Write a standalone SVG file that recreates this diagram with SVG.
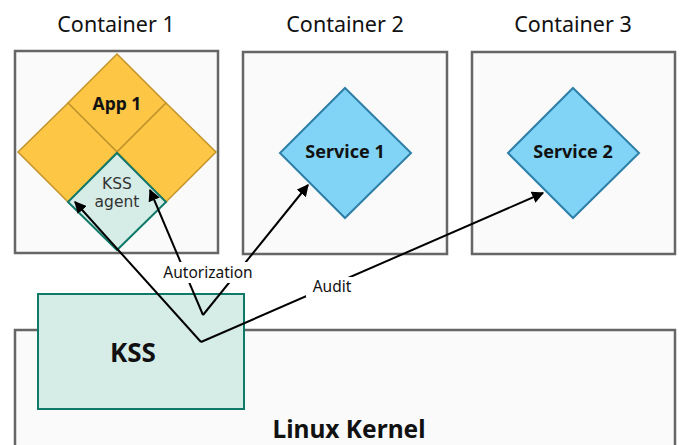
<svg xmlns="http://www.w3.org/2000/svg" width="681" height="445" viewBox="0 0 681 445">
<defs>
<style>
.box{fill:#fafafa;stroke:#666;stroke-width:2.5}
.title{font-family:"Noto Sans","DejaVu Sans",sans-serif;font-size:21.5px;fill:#111;text-anchor:middle}
.app{fill:#fdc745;stroke:#c4932c;stroke-width:1.5}
.agent{fill:#d6ece6;stroke:#0f7a6a;stroke-width:2}
.svc{fill:#81d4f5;stroke:#2e7fa8;stroke-width:2}
.bold{font-family:"Noto Sans","DejaVu Sans",sans-serif;font-weight:bold;fill:#111;text-anchor:middle}
.lbl{font-family:"Noto Sans","DejaVu Sans",sans-serif;font-size:15.5px;fill:#111;text-anchor:middle}
.agt{font-family:"DejaVu Sans",sans-serif;font-size:15.5px;fill:#333;text-anchor:middle}
.con{fill:none;stroke:#000;stroke-width:2;marker-end:url(#arr)}
</style>
<marker id="arr" viewBox="0 0 10 10" refX="9" refY="5" markerWidth="6" markerHeight="6" markerUnits="strokeWidth" orient="auto">
<path d="M0,0 L10,5 L0,10 z" fill="#000"/>
</marker>
</defs>
<rect width="681" height="445" fill="#fff"/>
<g id="container1">
<rect class="box" x="15" y="51" width="203" height="202"/>
<text class="title" x="116" y="32">Container 1</text>
</g>
<g id="container2">
<rect class="box" x="243" y="52" width="204" height="202"/>
<text class="title" x="345" y="32">Container 2</text>
</g>
<g id="container3">
<rect class="box" x="472" y="52" width="203" height="202"/>
<text class="title" x="573" y="32">Container 3</text>
</g>
<g id="linux-kernel">
<rect class="box" x="15" y="330" width="660" height="130"/>
<text class="bold" x="349" y="438" font-size="24.5">Linux Kernel</text>
</g>
<g id="kss">
<rect class="agent" x="38" y="294" width="206" height="115" stroke-width="2.5"/>
<text class="bold" x="133" y="362" font-size="26">KSS</text>
</g>
<g id="app1">
<polygon class="app" points="117,54 166,103 117,152 68,103"/>
<polygon class="app" points="68,103 117,152 68,202 18,152"/>
<polygon class="app" points="166,103 216,152 166,202 117,152"/>
<text class="bold" x="117" y="110" font-size="17.5">App 1</text>
</g>
<g id="kss-agent">
<polygon class="agent" points="117,153 166,202 117,250 68,202"/>
<text class="agt" x="117" y="189">KSS</text>
<text class="agt" x="117" y="207">agent</text>
</g>
<g id="service1">
<polygon class="svc" points="345,88 411,153 345,218 280,153"/>
<text class="bold" x="345" y="158" font-size="18">Service 1</text>
</g>
<g id="service2">
<polygon class="svc" points="573,88 639,153 573,218 508,153"/>
<text class="bold" x="573" y="158" font-size="18">Service 2</text>
</g>
<g id="connectors">
<line class="con" x1="201" y1="342" x2="75" y2="202"/>
<line class="con" x1="201" y1="342" x2="543" y2="193"/>
<line class="con" x1="203" y1="315" x2="150" y2="190"/>
<line class="con" x1="203" y1="315" x2="308" y2="185"/>
<rect x="160" y="262" width="96" height="21" fill="#fff"/>
<text class="lbl" x="208" y="278">Autorization</text>
<rect x="306" y="277" width="52" height="20" fill="#fff"/>
<text class="lbl" x="332" y="292">Audit</text>
</g>
</svg>
